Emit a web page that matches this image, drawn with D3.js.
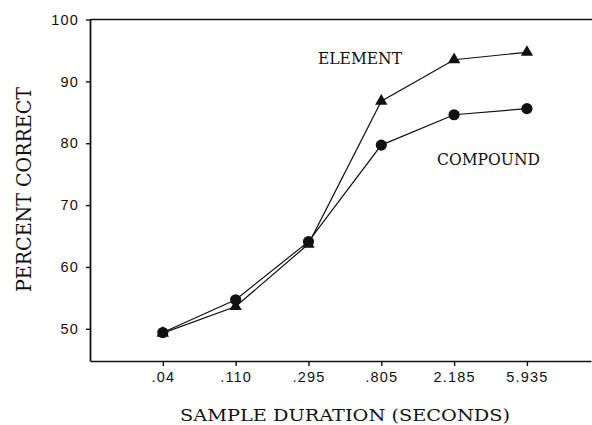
<!DOCTYPE html>
<html>
<head>
<meta charset="utf-8">
<script src="https://cdn.jsdelivr.net/npm/d3@7"></script>
<style>
  html, body { margin: 0; padding: 0; background: #fff; }
  svg { display: block; }
  .tick text { font-family: "Liberation Sans", Arial, sans-serif; font-size: 14.5px; fill: #111; letter-spacing: 1.2px; }
  .serif { font-family: "DejaVu Serif", serif; fill: #111; }
</style>
</head>
<body>
<svg id="chart" width="592" height="425"></svg>
<script>
// Sample durations (seconds) shown on the x axis
const durations = [".04", ".110", ".295", ".805", "2.185", "5.935"];
// Percent correct for each condition
const elementValues  = [49.3, 53.6, 63.7, 86.8, 93.5, 94.7];
const compoundValues = [49.4, 54.7, 64.1, 79.7, 84.6, 85.6];
const yTicks = [50, 60, 70, 80, 90, 100];

const svg = d3.select("#chart");
const plotLeft = 90, plotRight = 592, plotTop = 19.5, plotBottom = 361;

const x = d3.scaleLinear().domain([-1, 5.88]).range([plotLeft, 591]);
const y = d3.scaleLinear().domain([44.8, 100]).range([plotBottom, plotTop]);

// Frame top line
svg.append("line")
  .attr("x1", plotLeft).attr("x2", plotRight)
  .attr("y1", y(100)).attr("y2", y(100))
  .attr("stroke", "#111").attr("stroke-width", 1.6);

// Y axis
const yAxis = svg.append("g")
  .attr("transform", `translate(${plotLeft},0)`)
  .call(d3.axisLeft(y).tickValues(yTicks).tickSize(4).tickSizeOuter(0).tickPadding(7));
yAxis.select(".domain").attr("stroke", "#111").attr("stroke-width", 1.8);
yAxis.selectAll(".tick line").attr("stroke", "#111").attr("stroke-width", 1.4);

// X axis
const xAxis = svg.append("g")
  .attr("transform", `translate(0,${plotBottom})`)
  .call(d3.axisBottom(x)
    .tickValues(d3.range(durations.length))
    .tickFormat(i => durations[i])
    .tickSize(5).tickSizeOuter(0).tickPadding(6));
xAxis.select(".domain").attr("stroke", "#111").attr("stroke-width", 1.6);
xAxis.selectAll(".tick line").attr("stroke", "#111").attr("stroke-width", 1.4);

const line = d3.line().x((d, i) => x(i)).y(d => y(d));

// Element series line
svg.append("path").datum(elementValues)
  .attr("d", line).attr("fill", "none")
  .attr("stroke", "#111").attr("stroke-width", 1.2);
// Compound series line
svg.append("path").datum(compoundValues)
  .attr("d", line).attr("fill", "none")
  .attr("stroke", "#111").attr("stroke-width", 1.2);

// Element markers: filled triangles
const tri = d3.symbol().type(d3.symbolTriangle).size(66);
svg.selectAll(".tri").data(elementValues).enter().append("path")
  .attr("class", "tri")
  .attr("transform", (d, i) => `translate(${x(i)},${y(d)})`)
  .attr("d", tri).attr("fill", "#111");

// Compound markers: filled circles
svg.selectAll(".dot").data(compoundValues).enter().append("circle")
  .attr("class", "dot")
  .attr("cx", (d, i) => x(i)).attr("cy", d => y(d))
  .attr("r", 5.6).attr("fill", "#111");

// Series labels
svg.append("text").attr("class", "serif")
  .attr("x", 318).attr("y", 64).attr("font-size", 16)
  .attr("textLength", 84).attr("lengthAdjust", "spacingAndGlyphs")
  .text("ELEMENT");
svg.append("text").attr("class", "serif")
  .attr("x", 437).attr("y", 165).attr("font-size", 16.5)
  .attr("textLength", 103).attr("lengthAdjust", "spacingAndGlyphs")
  .text("COMPOUND");

// Axis titles
svg.append("text").attr("class", "serif")
  .attr("x", 180).attr("y", 421).attr("font-size", 17.5)
  .attr("textLength", 330).attr("lengthAdjust", "spacingAndGlyphs")
  .text("SAMPLE DURATION (SECONDS)");
svg.append("text").attr("class", "serif")
  .attr("transform", "translate(31,292) rotate(-90)")
  .attr("font-size", 21)
  .attr("textLength", 205).attr("lengthAdjust", "spacingAndGlyphs")
  .text("PERCENT CORRECT");
</script>
</body>
</html>
